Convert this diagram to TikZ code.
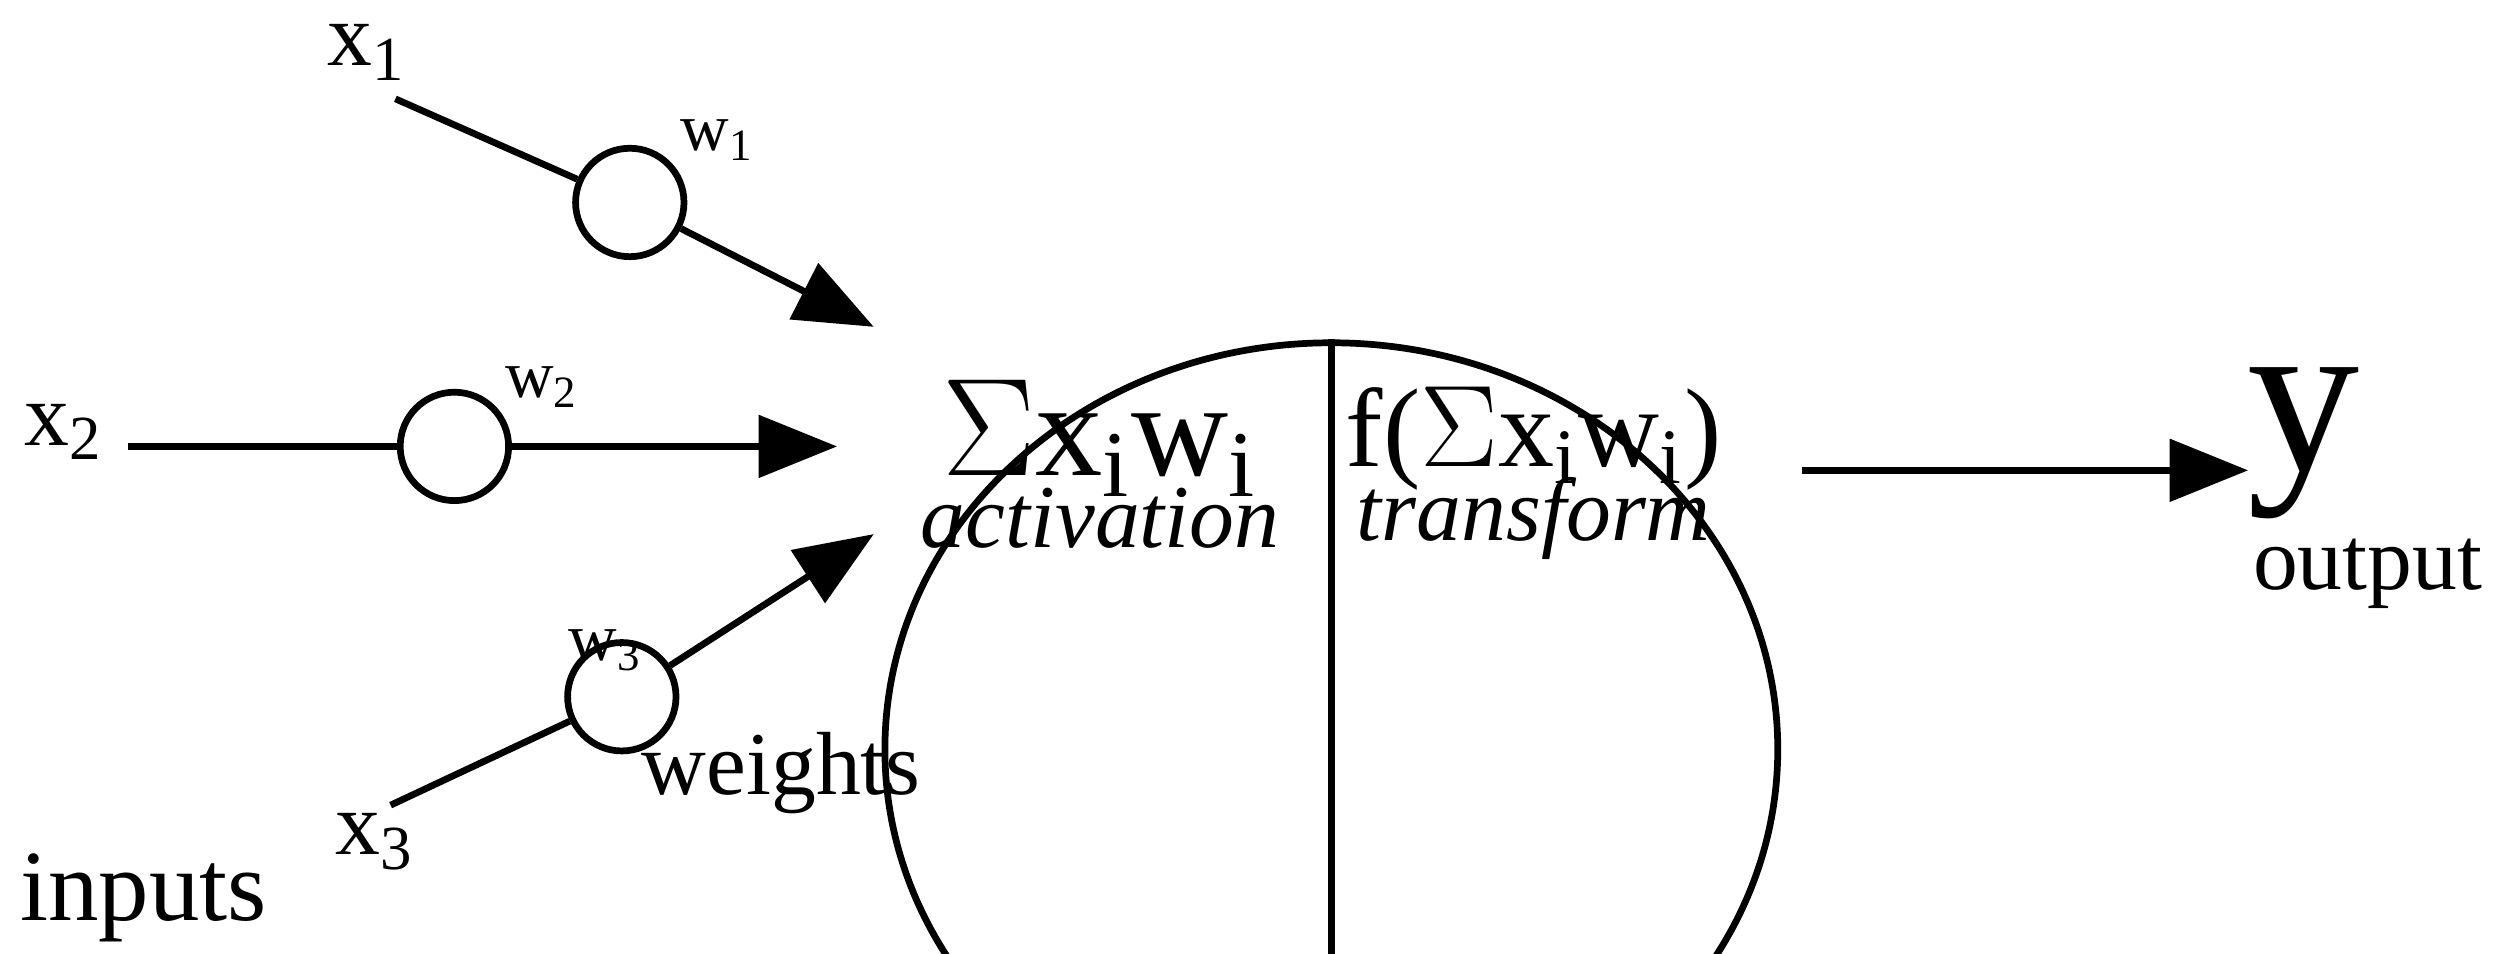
\documentclass[tikz,border=0pt]{standalone}
\usepackage{fontspec}
\setmainfont{Liberation Serif}
\usetikzlibrary{arrows.meta,shapes.geometric}
\begin{document}
\begin{tikzpicture}[x=1cm,y=1cm,
  ln/.style={line width=1.2pt},
  arr/.style={ln,-{Triangle[length=14pt,width=11pt]}},
  wc/.style={circle,draw,line width=1.2pt,minimum size=0.68cm,inner sep=0pt},
  lab/.style={font=\fontsize{16}{18}\selectfont,inner sep=0pt}]
\useasboundingbox (0,0) rectangle (15.68,5.98);
% neuron
\node[ellipse,draw,line width=1.2pt,minimum width=5.6cm,minimum height=5.1cm] (n) at (8.35,1.28) {};
\draw[ln] (n.north) -- (n.south);
% weight circles
\node[wc] (c1) at (3.95,4.71) {};
\node[wc] (c2) at (2.85,3.18) {};
\node[wc] (c3) at (3.90,1.61) {};
% coordinates
\coordinate (s1) at (2.48,5.36);
\coordinate (t1) at (5.48,3.93);
\coordinate (s2) at (0.80,3.18);
\coordinate (t2) at (5.25,3.18);
\coordinate (s3) at (2.45,0.93);
\coordinate (t3) at (5.48,2.63);
\coordinate (s4) at (11.30,3.03);
\coordinate (t4) at (14.10,3.03);
\draw[ln] (s1) -- (c1); \draw[arr] (c1) -- (t1);
\draw[ln] (s2) -- (c2); \draw[arr] (c2) -- (t2);
\draw[ln] (s3) -- (c3); \draw[arr] (c3) -- (t3);
\draw[arr] (s4) -- (t4);
% labels
\node[lab,font=\fontsize{16}{18}\selectfont] (x1) at (2.30,5.65) {x$_{\mathrm{1}}$};
\node[lab,font=\fontsize{12}{14}\selectfont] (w1) at (4.50,5.10) {w$_{\mathrm{1}}$};
\node[lab,font=\fontsize{16}{18}\selectfont] (x2) at (0.40,3.27) {x$_{\mathrm{2}}$};
\node[lab,font=\fontsize{12}{14}\selectfont] (w2) at (3.40,3.55) {w$_{\mathrm{2}}$};
\node[lab,font=\fontsize{12}{14}\selectfont] (w3) at (3.80,1.90) {w$_{\mathrm{3}}$};
\node[lab,font=\fontsize{16}{18}\selectfont] (wt) at (4.90,1.13) {weights};
\node[lab,font=\fontsize{16}{18}\selectfont] (x3) at (2.35,0.70) {x$_{\mathrm{3}}$};
\node[lab,font=\fontsize{18}{20}\selectfont] (in) at (0.90,0.35) {inputs};
\node[lab,font=\fontsize{24}{26}\selectfont] (sum) at (6.90,3.23) {$\Sigma$x$_{\mathrm{i}}$w$_{\mathrm{i}}$};
\node[lab,font=\fontsize{16}{18}\selectfont\itshape] (act) at (6.90,2.73) {activation};
\node[lab,font=\fontsize{20}{22}\selectfont] (f) at (9.62,3.23) {f($\Sigma$x$_{\mathrm{i}}$w$_{\mathrm{i}}$)};
\node[lab,font=\fontsize{16}{18}\selectfont\itshape] (tr) at (9.62,2.73) {transform};
\node[lab,font=\fontsize{40}{42}\selectfont] (y) at (14.45,3.20) {y};
\node[lab,font=\fontsize{16}{18}\selectfont] (out) at (14.85,2.38) {output};
\end{tikzpicture}
\end{document}
